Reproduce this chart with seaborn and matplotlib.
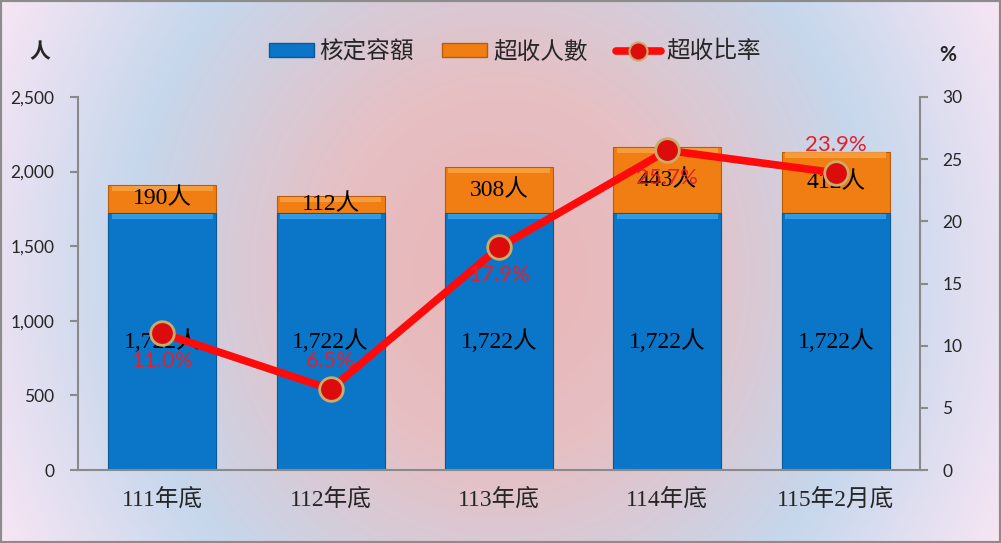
import numpy as np
import pandas as pd
import matplotlib.pyplot as plt
import seaborn as sns
from matplotlib.patches import Patch, Rectangle
from matplotlib.lines import Line2D
from matplotlib.colors import to_rgb

# Data
categories = ["111年底", "112年底", "113年底", "114年底", "115年2月底"]
quota = [1722, 1722, 1722, 1722, 1722]      # 核定容額
over = [190, 112, 308, 443, 412]            # 超收人數
rate = [11.0, 6.5, 17.9, 25.7, 23.9]        # 超收比率 (%)
rate_label_side = ["below", "above", "below", "below", "above"]

df = pd.DataFrame({"cat": categories, "quota": quota, "over": over, "rate": rate})
df["total"] = df["quota"] + df["over"]

BLUE = "#0b76c8"
BLUE_TOP = "#3aa4ee"
ORANGE = "#f07e12"
ORANGE_TOP = "#f9a446"
RED = "#ff0a0a"
LABEL_RED = "#e3202c"
GRAY = "#8a8a8a"

SERIF_CJK = ["Liberation Serif", "Noto Sans CJK TC"]
SANS = ["Lato", "DejaVu Sans"]

sns.set_style("white")
plt.rcParams["font.family"] = ["Noto Sans CJK TC", "DejaVu Sans"]

fig = plt.figure(figsize=(10.01, 5.43), dpi=100)

# Background gradient
bg = fig.add_axes([0, 0, 1, 1], zorder=-10)
h, w = 543, 1001
yy, xx = np.mgrid[0:h, 0:w]
r = np.sqrt(((xx - 500) / 500.0) ** 2 + (0.5 * (yy - 271) / 271.0) ** 2)
stops = [0.0, 0.35, 0.75, 1.12]
cols = [to_rgb("#eab4b5"), to_rgb("#e6c0c4"), to_rgb("#c6d7ec"), to_rgb("#f8e6f4")]
img = np.zeros((h, w, 3))
for c in range(3):
    img[..., c] = np.interp(r, stops, [col[c] for col in cols])
bg.imshow(img, aspect="auto", extent=[0, 1, 0, 1])
bg.add_patch(Rectangle((0, 0), 1, 1, transform=bg.transAxes, fill=False,
                       edgecolor="#8c8c8c", linewidth=3))
bg.axis("off")

ax = fig.add_axes([0.078, 0.1344, 0.841, 0.687])
ax.set_facecolor("none")

# Stacked bars: totals (orange) underneath, quota (blue) on top
sns.barplot(data=df, x="cat", y="total", color=ORANGE, width=0.64,
            saturation=1, edgecolor="#b85c0c", linewidth=0.8, ax=ax)
n_over = len(ax.patches)
sns.barplot(data=df, x="cat", y="quota", color=BLUE, width=0.64,
            saturation=1, edgecolor="#0a5a98", linewidth=0.8, ax=ax)

# bevel highlights on top of each segment
strip = 40
for i, p in enumerate(list(ax.patches)):
    top_col = ORANGE_TOP if i < n_over else BLUE_TOP
    inset = p.get_width() * 0.03
    ax.add_patch(Rectangle((p.get_x() + inset, p.get_height() - strip),
                           p.get_width() - 2 * inset, strip * 0.85,
                           facecolor=top_col, edgecolor="none",
                           alpha=0.8, zorder=p.get_zorder() + 0.1))

ax.set_xlim(-0.5, len(categories) - 0.5)
ax.set_ylim(0, 2500)
ax.set_yticks(range(0, 2501, 500))
ax.set_yticklabels([f"{v:,}" for v in range(0, 2501, 500)], family=SANS, fontsize=12.5)
ax.set_xticks(range(len(categories)))
ax.set_xticklabels(categories, family=SERIF_CJK, fontsize=17)
ax.set_xlabel("")
ax.set_ylabel("")
ax.tick_params(axis="y", length=6, width=1.5, color=GRAY, pad=11, direction="out", left=True)
ax.tick_params(axis="x", length=0, pad=13)
for s in ["top", "right"]:
    ax.spines[s].set_visible(False)
for s in ["left", "bottom"]:
    ax.spines[s].set_color(GRAY)
    ax.spines[s].set_linewidth(1.5)

# bar labels
for i, row in df.iterrows():
    ax.text(i, row["quota"] / 2, f"{row['quota']:,}人", ha="center", va="center",
            family=SERIF_CJK, fontsize=17, color="black", zorder=5)
    ax.text(i, row["quota"] + row["over"] / 2, f"{row['over']}人", ha="center",
            va="center", family=SERIF_CJK, fontsize=17, color="black", zorder=5)

# rate line on secondary axis
ax2 = ax.twinx()
ax2.set_facecolor("none")
sns.lineplot(x=list(range(len(categories))), y=rate, ax=ax2, color=RED, linewidth=5.5,
             marker="o", markersize=17, markerfacecolor="#dc0c0c",
             markeredgecolor="#c9ab6c", markeredgewidth=2, zorder=6)
ax2.set_ylim(0, 30)
ax2.set_yticks(range(0, 31, 5))
ax2.set_yticklabels([str(v) for v in range(0, 31, 5)], family=SANS, fontsize=12.5)
ax2.tick_params(axis="y", length=6, width=1.5, color=GRAY, pad=10, direction="out", right=True)
ax2.set_ylabel("")
for s in ["top", "left", "bottom"]:
    ax2.spines[s].set_visible(False)
ax2.spines["right"].set_color(GRAY)
ax2.spines["right"].set_linewidth(1.5)

for i, (v, side) in enumerate(zip(rate, rate_label_side)):
    dy = -20 if side == "below" else 20
    ax2.annotate(f"{v:.1f}%", (i, v), xytext=(0, dy), textcoords="offset points",
                 ha="center", va="center", family=SANS, fontsize=16,
                 color=LABEL_RED, zorder=7)

# axis unit labels
fig.text(40 / 1001, 1 - 52 / 543, "人", ha="center", va="center", fontsize=15,
         fontweight="bold")
fig.text(948 / 1001, 1 - 55 / 543, "%", ha="center", va="center", fontsize=15,
         fontweight="bold", family=SANS)

# legend
handles = [
    Patch(facecolor=BLUE, edgecolor="#0a5a98", label="核定容額"),
    Patch(facecolor=ORANGE, edgecolor="#b85c0c", label="超收人數"),
    Line2D([], [], color=RED, linewidth=5.5, marker="o", markersize=13,
           markerfacecolor="#dc0c0c", markeredgecolor="#c9ab6c",
           markeredgewidth=1.5, label="超收比率"),
]
fig.legend(handles=handles, loc="center", bbox_to_anchor=(515 / 1001, 1 - 52 / 543),
           ncol=3, frameon=False, fontsize=17, handlelength=1.9, handleheight=0.5,
           handletextpad=0.25, columnspacing=1.2)

fig.savefig("out.png", dpi=100)
